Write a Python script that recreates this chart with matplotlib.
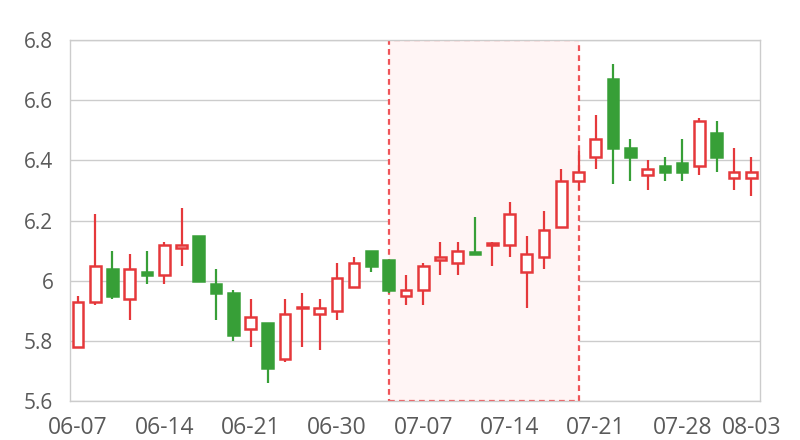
import matplotlib
matplotlib.use("Agg")
import matplotlib.pyplot as plt

dates = ['06-07', '06-08', '06-09', '06-10', '06-13', '06-14', '06-15', '06-16', '06-17', '06-20',
         '06-21', '06-22', '06-23', '06-24', '06-29', '06-30', '07-01', '07-04', '07-05', '07-06',
         '07-07', '07-08', '07-11', '07-12', '07-13', '07-14', '07-15', '07-18', '07-19', '07-20',
         '07-21', '07-22', '07-25', '07-26', '07-27', '07-28', '07-29', '08-01', '08-02', '08-03']
opens = [5.78, 5.93, 6.04, 5.94, 6.03, 6.02, 6.11, 6.15, 5.99, 5.96,
         5.84, 5.86, 5.74, 5.91, 5.89, 5.90, 5.98, 6.10, 6.07, 5.95,
         5.97, 6.07, 6.06, 6.095, 6.12, 6.12, 6.03, 6.08, 6.18, 6.33,
         6.41, 6.67, 6.44, 6.35, 6.38, 6.39, 6.38, 6.49, 6.34, 6.34]
closes = [5.93, 6.05, 5.95, 6.04, 6.02, 6.12, 6.12, 6.00, 5.96, 5.82,
          5.88, 5.71, 5.89, 5.91, 5.91, 6.01, 6.06, 6.05, 5.97, 5.97,
          6.05, 6.08, 6.10, 6.09, 6.12, 6.22, 6.09, 6.17, 6.33, 6.36,
          6.47, 6.44, 6.41, 6.37, 6.36, 6.36, 6.53, 6.41, 6.36, 6.36]
lows = [5.78, 5.92, 5.94, 5.87, 5.99, 5.99, 6.05, 6.00, 5.87, 5.80,
        5.78, 5.66, 5.73, 5.78, 5.77, 5.87, 5.98, 6.03, 5.96, 5.92,
        5.92, 6.02, 6.02, 6.09, 6.05, 6.08, 5.91, 6.04, 6.18, 6.30,
        6.37, 6.32, 6.33, 6.30, 6.33, 6.33, 6.35, 6.36, 6.30, 6.28]
highs = [5.95, 6.22, 6.10, 6.09, 6.10, 6.13, 6.24, 6.15, 6.04, 5.97,
         5.94, 5.86, 5.94, 5.96, 5.94, 6.06, 6.08, 6.10, 6.07, 6.02,
         6.06, 6.13, 6.13, 6.21, 6.13, 6.26, 6.15, 6.23, 6.37, 6.43,
         6.55, 6.72, 6.47, 6.40, 6.41, 6.47, 6.54, 6.53, 6.44, 6.41]
area_start, area_end = '07-05', '07-20'
label_every = 5

red = '#e5383b'
green = '#379f37'
gray = '#cccccc'

plt.rcParams['font.family'] = ['Open Sans', 'DejaVu Sans']
fig = plt.figure(figsize=(8, 4.4), dpi=100)
ax = fig.add_axes([0.0875, 0.0886, 0.8625, 0.8205])

xs = list(range(len(dates)))

# highlighted area
x0, x1 = dates.index(area_start), dates.index(area_end)
ax.axvspan(x0, x1, facecolor='#fff5f5', edgecolor='#ef5458', linestyle=(0, (2.6, 1.9)),
           linewidth=1.6, zorder=1)

for i in xs:
    o, c = opens[i], closes[i]
    up = c >= o
    col = red if up else green
    ax.vlines(i, lows[i], highs[i], color=col, linewidth=1.6, zorder=2)
    bottom = min(o, c)
    h = max(abs(c - o), 0.004)
    ax.bar(i, h, bottom=bottom, width=0.62,
           facecolor='white' if up else green, edgecolor=col,
           linewidth=1.8, zorder=3)

ax.set_xlim(-0.46, 39.51)
ax.set_ylim(5.6, 6.8)
ax.set_yticks([5.6, 5.8, 6.0, 6.2, 6.4, 6.6, 6.8])
ax.set_yticklabels(['5.6', '5.8', '6', '6.2', '6.4', '6.6', '6.8'])
ticks = [i for i in xs if i % label_every == 0 or i == len(dates) - 1]
ax.set_xticks(ticks)
ax.set_xticklabels([dates[i] for i in ticks])
ax.grid(axis='y', color=gray, linewidth=1)
ax.set_axisbelow(True)
for s in ax.spines.values():
    s.set_color(gray)
    s.set_linewidth(1)
ax.tick_params(length=0, colors='#5a5a5a')
ax.tick_params(axis='y', labelsize=15, pad=12)
ax.tick_params(axis='x', labelsize=16.5, pad=11)

fig.savefig('out.png', dpi=100)
